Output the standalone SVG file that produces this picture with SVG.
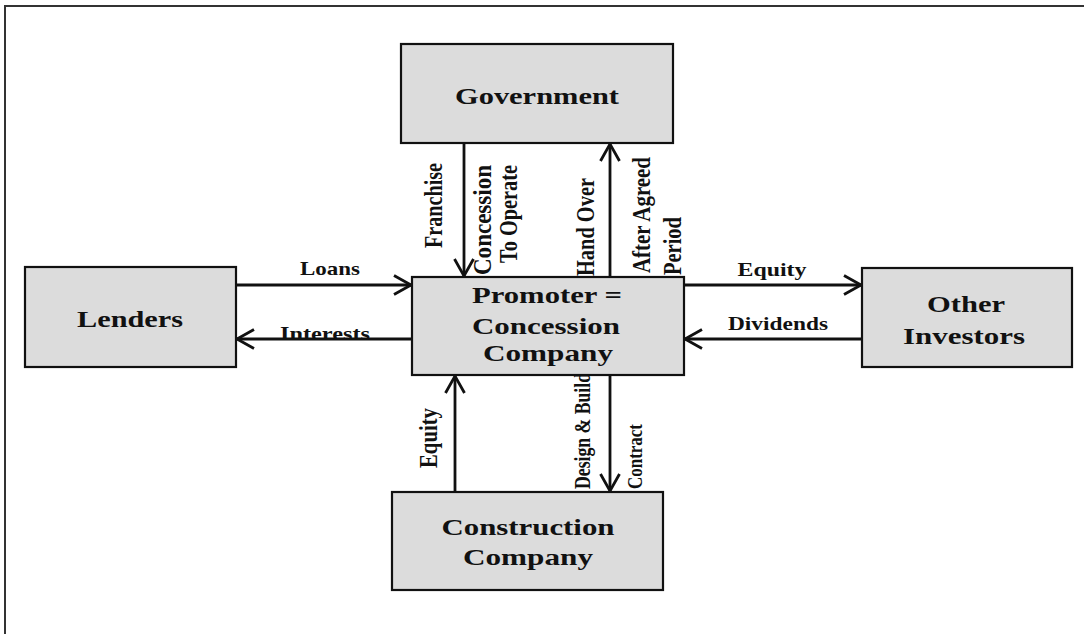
<svg xmlns="http://www.w3.org/2000/svg" width="1084" height="634" viewBox="0 0 1084 634">
<style>
.box{fill:#dcdcdc;stroke:#111;stroke-width:2.2}
.t{font-family:"Liberation Serif","Times New Roman",serif;font-weight:bold;fill:#111}
.bl{font-size:24px;text-anchor:middle}
.el{font-size:19px;text-anchor:middle}
.vl{font-size:25px}
.c{fill:none;stroke:#111;stroke-width:2.8}
</style>
<defs>
<marker id="ah" markerUnits="userSpaceOnUse" markerWidth="24" markerHeight="24" viewBox="-20 -12 24 24" refX="0" refY="0" orient="auto">
<path d="M-17,-9.5 L0,0 L-17,9.5" fill="none" stroke="#111" stroke-width="2.8"/>
</marker>
</defs>
<rect width="1084" height="634" fill="#fff"/>
<rect x="5" y="6" width="1095" height="650" fill="none" stroke="#333" stroke-width="2"/>

<g id="connectors">
<line class="c" x1="236" y1="285" x2="411" y2="285" marker-end="url(#ah)"/>
<line class="c" x1="412" y1="339" x2="237" y2="339" marker-end="url(#ah)"/>
<line class="c" x1="684" y1="285" x2="861" y2="285" marker-end="url(#ah)"/>
<line class="c" x1="862" y1="339" x2="685" y2="339" marker-end="url(#ah)"/>
<line class="c" x1="464" y1="143" x2="464" y2="276" marker-end="url(#ah)"/>
<line class="c" x1="610" y1="277" x2="610" y2="144" marker-end="url(#ah)"/>
<line class="c" x1="455" y1="492" x2="455" y2="376" marker-end="url(#ah)"/>
<line class="c" x1="610" y1="375" x2="610" y2="491" marker-end="url(#ah)"/>
<text class="t el" x="330" y="275" textLength="60" lengthAdjust="spacingAndGlyphs">Loans</text>
<text class="t el" x="325" y="340" textLength="90" lengthAdjust="spacingAndGlyphs">Interests</text>
<text class="t el" x="772" y="276" textLength="69" lengthAdjust="spacingAndGlyphs">Equity</text>
<text class="t el" x="778" y="330" textLength="100" lengthAdjust="spacingAndGlyphs">Dividends</text>
<text class="t vl" transform="translate(442,248) rotate(-90)" textLength="85" lengthAdjust="spacingAndGlyphs">Franchise</text>
<text class="t vl" transform="translate(491,275) rotate(-90)" textLength="110" lengthAdjust="spacingAndGlyphs">Concession</text>
<text class="t vl" transform="translate(517,263) rotate(-90)" textLength="98" lengthAdjust="spacingAndGlyphs">To Operate</text>
<text class="t vl" transform="translate(594,276) rotate(-90)" textLength="98" lengthAdjust="spacingAndGlyphs">Hand Over</text>
<text class="t vl" transform="translate(650,273) rotate(-90)" textLength="116" lengthAdjust="spacingAndGlyphs">After Agreed</text>
<text class="t vl" transform="translate(681,275) rotate(-90)" textLength="58" lengthAdjust="spacingAndGlyphs">Period</text>
<text class="t vl" transform="translate(437,468) rotate(-90)" textLength="60" lengthAdjust="spacingAndGlyphs">Equity</text>
<text class="t vl" style="font-size:23px" transform="translate(590,489) rotate(-90)" textLength="116" lengthAdjust="spacingAndGlyphs">Design &amp; Build</text>
<text class="t vl" style="font-size:22px" transform="translate(642,489) rotate(-90)" textLength="65" lengthAdjust="spacingAndGlyphs">Contract</text>
</g>

<g id="government">
<rect class="box" x="401" y="44" width="272" height="99"/>
<text class="t bl" x="537" y="104" textLength="164" lengthAdjust="spacingAndGlyphs">Government</text>
</g>
<g id="lenders">
<rect class="box" x="25" y="267" width="211" height="100"/>
<text class="t bl" x="130" y="327" textLength="106" lengthAdjust="spacingAndGlyphs">Lenders</text>
</g>
<g id="promoter">
<rect class="box" x="412" y="277" width="272" height="98"/>
<text class="t bl" x="547" y="303" textLength="150" lengthAdjust="spacingAndGlyphs">Promoter =</text>
<text class="t bl" x="546" y="334" textLength="148" lengthAdjust="spacingAndGlyphs">Concession</text>
<text class="t bl" x="548" y="361" textLength="130" lengthAdjust="spacingAndGlyphs">Company</text>
</g>
<g id="investors">
<rect class="box" x="862" y="268" width="210" height="99"/>
<text class="t bl" x="966" y="312" textLength="78" lengthAdjust="spacingAndGlyphs">Other</text>
<text class="t bl" x="964" y="344" textLength="122" lengthAdjust="spacingAndGlyphs">Investors</text>
</g>
<g id="construction">
<rect class="box" x="392" y="492" width="271" height="98"/>
<text class="t bl" x="528" y="535" textLength="173" lengthAdjust="spacingAndGlyphs">Construction</text>
<text class="t bl" x="528" y="565" textLength="130" lengthAdjust="spacingAndGlyphs">Company</text>
</g>
</svg>
